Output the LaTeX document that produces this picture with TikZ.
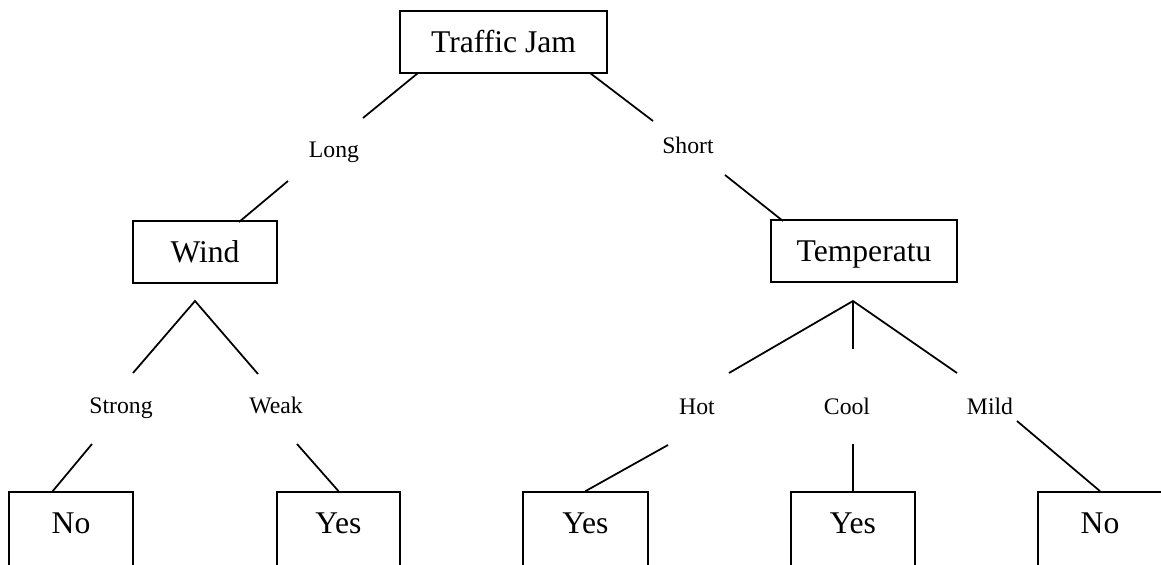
\documentclass[tikz,border=0pt]{standalone}
\usepackage{fontspec}
\setmainfont{Liberation Serif}
\newcommand{\boxfont}{\fontsize{18}{20}\selectfont}
\newcommand{\edgefont}{\fontsize{13.5}{15}\selectfont}
\usepackage{tikz}

\tikzset{
  box/.style={draw, line width=1pt, inner sep=0pt, anchor=base,
              text height=0.82cm, text depth=0.42cm, font=\boxfont},
  leaf/.style={box, minimum width=2.48cm, text depth=2cm},
  choice/.style={inner sep=0pt, anchor=base, font=\edgefont},
}

\begin{document}
\begin{tikzpicture}[x=0.02cm, y=-0.02cm, line width=1pt]

    \useasboundingbox (0,0) rectangle (1161,565);
    \clip (0,0) rectangle (1161,565);

    % attribute boxes
    \node[box, minimum width=4.14cm] (tj) at (503.5, 52) {Traffic Jam};
    \node[box, minimum width=2.88cm] (wind) at (205, 262) {Wind};
    \node[box, minimum width=3.72cm] (temp) at (864, 261) {Temperatu};

    % leaves, cut off at the bottom
    \node[leaf] (no1) at (71, 533) {No};
    \node[leaf, minimum width=2.46cm] (yes1) at (338.5, 533) {Yes};
    \node[leaf, minimum width=2.5cm] (yes2) at (585.5, 533) {Yes};
    \node[leaf] (yes3) at (853, 533) {Yes};
    \node[leaf] (no2) at (1100, 533) {No};

    % branch values
    \node[choice] (long) at (334, 157) {Long};
    \node[choice] (short) at (688, 153) {Short};
    \node[choice] (strong) at (121, 413) {Strong};
    \node[choice] (weak) at (276, 413) {Weak};
    \node[choice] (hot) at (697, 414) {Hot};
    \node[choice] (cool) at (847, 414) {Cool};
    \node[choice] (mild) at (990, 414) {Mild};

    % line ends
    \coordinate (tj-l) at (418, 73);
    \coordinate (long-a) at (363, 118);
    \coordinate (long-b) at (288, 181);
    \coordinate (wind-t) at (239, 222);
    \coordinate (tj-r) at (590, 73);
    \coordinate (short-a) at (653, 121);
    \coordinate (short-b) at (725, 175);
    \coordinate (temp-t) at (783, 221);

    \coordinate (wind-fork) at (195, 301);
    \coordinate (strong-a) at (133, 373);
    \coordinate (weak-a) at (258, 374);
    \coordinate (strong-b) at (92, 444);
    \coordinate (no1-t) at (52, 492);
    \coordinate (weak-b) at (297, 444);

    \coordinate (temp-fork) at (853, 301);
    \coordinate (hot-a) at (729, 373);
    \coordinate (cool-a) at (853, 349);
    \coordinate (mild-a) at (957, 373);
    \coordinate (hot-b) at (668, 445);
    \coordinate (cool-b) at (853, 444);
    \coordinate (mild-b) at (1017, 421);

    % top split
    \draw (tj-l) -- (long-a);
    \draw (long-b) -- (wind-t);
    \draw (tj-r) -- (short-a);
    \draw (short-b) -- (temp-t);

    % wind split
    \draw (strong-a) -- (wind-fork) -- (weak-a);
    \draw (strong-b) -- (no1-t);
    \draw (weak-b) -- (yes1.north);

    % temperature split
    \draw (hot-a) -- (temp-fork) -- (mild-a);
    \draw (temp-fork) -- (cool-a);
    \draw (hot-b) -- (yes2.north);
    \draw (cool-b) -- (yes3.north);
    \draw (mild-b) -- (no2.north);

\end{tikzpicture}
\end{document}
